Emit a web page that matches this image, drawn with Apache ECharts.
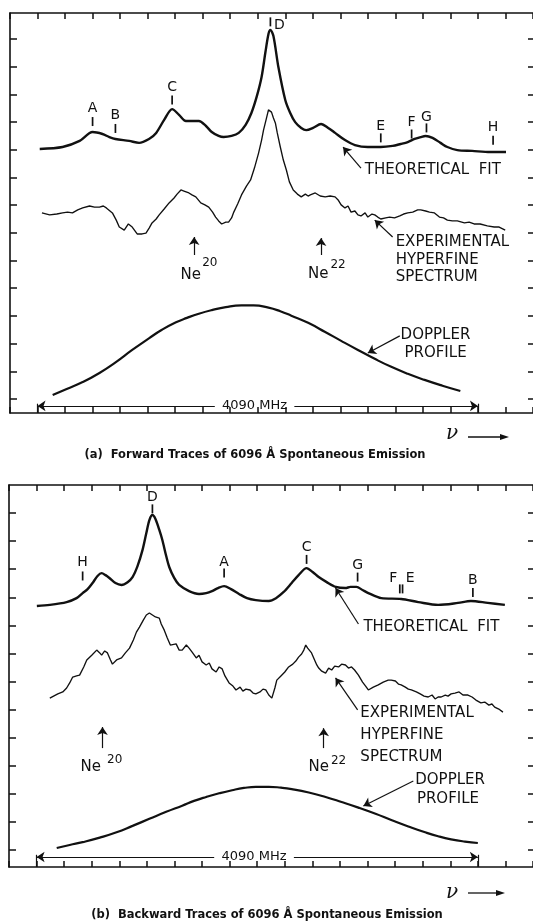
<!DOCTYPE html>
<html>
<head>
<meta charset="utf-8">
<script src="https://cdn.jsdelivr.net/npm/echarts@6/dist/echarts.min.js"></script>
<style>
html, body { margin: 0; padding: 0; background: #fff; }
#chart { width: 533px; height: 921px; }
</style>
</head>
<body>
<div id="chart"></div>
<script>
// x = frequency in tick divisions (4090 MHz = 16 divisions), y = intensity in divisions

// (a) forward traces
var fitA = [[0.08,9.03],[0.91,9.10],[1.53,9.32],[2.00,9.64],[2.36,9.57],[2.61,9.46],[2.83,9.39],[3.33,9.32],[3.69,9.25],[4.05,9.39],[4.31,9.61],[4.60,10.08],[4.89,10.47],[5.14,10.26],[5.39,10.04],[5.61,10.04],[5.86,10.04],[6.12,9.86],[6.33,9.64],[6.58,9.50],[6.76,9.46],[7.05,9.50],[7.31,9.61],[7.56,9.90],[7.77,10.33],[7.96,10.91],[8.14,11.63],[8.28,12.53],[8.39,13.18],[8.46,13.33],[8.57,13.11],[8.75,11.99],[9.00,10.80],[9.18,10.33],[9.36,10.00],[9.58,9.79],[9.76,9.71],[10.01,9.79],[10.30,9.93],[10.56,9.79],[10.81,9.61],[11.17,9.35],[11.53,9.17],[12.00,9.10],[12.47,9.10],[12.90,9.14],[13.19,9.21],[13.45,9.28],[13.70,9.39],[13.92,9.46],[14.10,9.50],[14.35,9.43],[14.64,9.25],[14.89,9.10],[15.25,8.99],[15.79,8.96],[16.44,8.92],[17.02,8.92]];
var expA = [[0.16,6.72],[0.44,6.65],[0.70,6.68],[0.91,6.72],[1.09,6.75],[1.27,6.72],[1.46,6.83],[1.64,6.90],[1.89,6.97],[2.07,6.93],[2.25,6.93],[2.39,6.97],[2.50,6.90],[2.72,6.72],[2.86,6.46],[2.97,6.21],[3.15,6.10],[3.30,6.32],[3.44,6.21],[3.62,5.96],[3.80,5.96],[3.94,5.99],[4.06,6.18],[4.16,6.36],[4.31,6.50],[4.42,6.65],[4.60,6.86],[4.78,7.08],[4.96,7.26],[5.07,7.40],[5.21,7.55],[5.32,7.51],[5.39,7.48],[5.50,7.44],[5.61,7.37],[5.75,7.30],[5.93,7.08],[6.08,7.01],[6.22,6.93],[6.36,6.75],[6.47,6.57],[6.58,6.43],[6.69,6.32],[6.84,6.39],[6.94,6.39],[7.05,6.54],[7.13,6.75],[7.27,7.04],[7.41,7.37],[7.59,7.69],[7.74,7.91],[7.88,8.34],[8.03,8.88],[8.14,9.35],[8.21,9.71],[8.32,10.15],[8.39,10.44],[8.43,10.51],[8.50,10.36],[8.57,10.15],[8.64,9.97],[8.71,9.61],[8.82,9.10],[8.93,8.63],[9.04,8.27],[9.15,7.84],[9.29,7.55],[9.44,7.40],[9.58,7.30],[9.73,7.40],[9.83,7.33],[9.91,7.37],[10.09,7.44],[10.27,7.33],[10.45,7.30],[10.63,7.33],[10.81,7.30],[10.92,7.19],[11.03,7.01],[11.17,6.90],[11.28,6.97],[11.39,6.75],[11.53,6.79],[11.64,6.65],[11.75,6.61],[11.90,6.72],[12.00,6.57],[12.15,6.68],[12.25,6.65],[12.36,6.57],[12.47,6.50],[12.65,6.54],[12.79,6.57],[12.97,6.54],[13.16,6.61],[13.30,6.68],[13.45,6.72],[13.63,6.75],[13.81,6.83],[13.92,6.83],[14.10,6.79],[14.24,6.75],[14.42,6.72],[14.60,6.57],[14.75,6.54],[14.89,6.46],[15.07,6.43],[15.25,6.43],[15.51,6.36],[15.68,6.39],[15.86,6.32],[16.08,6.32],[16.34,6.25],[16.59,6.21],[16.77,6.21],[16.99,6.10]];
var dopA = [[0.55,0.14],[1.06,0.36],[1.64,0.61],[2.25,0.94],[2.86,1.34],[3.44,1.77],[4.06,2.20],[4.52,2.50],[5.03,2.77],[5.43,2.93],[5.86,3.08],[6.33,3.21],[6.84,3.32],[7.41,3.38],[7.85,3.38],[8.39,3.30],[8.82,3.17],[9.22,3.01],[9.83,2.75],[10.45,2.42],[11.03,2.10],[11.64,1.77],[12.25,1.45],[12.83,1.17],[13.45,0.91],[14.06,0.69],[14.71,0.48],[15.36,0.29]];
var peakNamesA = ['A','B','C','D','E','F','G','H'];
var peakLabelA = [[2.00,10.51],[2.83,10.26],[4.89,11.27],[8.79,13.51],[12.47,9.86],[13.59,10.00],[14.13,10.18],[16.55,9.82]];
var peakTickA = [[2.00,10.02],[2.83,9.77],[4.89,10.80],[8.46,13.62],[12.47,9.43],[13.59,9.57],[14.13,9.79],[16.55,9.34]];
var notesA = [['THEORETICAL  FIT',11.89,8.27],['EXPERIMENTAL',13.01,5.67],['HYPERFINE',13.01,5.02],['SPECTRUM',13.01,4.41],['DOPPLER',13.19,2.31],['PROFILE',13.33,1.66]];
var pointersA = [[[11.75,8.34],[11.10,9.10]],[[12.90,5.85],[12.25,6.46]],[[13.16,2.28],[12.00,1.66]],[[5.69,5.20],[5.69,5.85]],[[10.30,5.20],[10.30,5.81]]];
var isoA = [['Ne',5.57,4.48],['Ne',10.20,4.51]];
var isoSupA = [['20',6.26,4.91],['22',10.92,4.84]];

// (b) backward traces
var fitB = [[0.01,8.69],[0.48,8.73],[1.09,8.83],[1.45,8.97],[1.67,9.15],[1.85,9.29],[2.03,9.51],[2.21,9.76],[2.36,9.86],[2.50,9.79],[2.64,9.69],[2.86,9.51],[3.08,9.44],[3.30,9.54],[3.48,9.72],[3.66,10.11],[3.84,10.68],[3.98,11.29],[4.09,11.75],[4.20,11.93],[4.31,11.79],[4.45,11.40],[4.56,11.04],[4.70,10.47],[4.81,10.08],[4.99,9.69],[5.17,9.44],[5.53,9.22],[5.89,9.12],[6.15,9.15],[6.36,9.22],[6.58,9.33],[6.80,9.40],[7.05,9.29],[7.34,9.12],[7.63,8.97],[7.95,8.90],[8.42,8.87],[8.68,8.97],[8.96,9.19],[9.25,9.51],[9.50,9.79],[9.79,10.04],[10.01,9.90],[10.23,9.72],[10.52,9.54],[10.85,9.37],[11.20,9.33],[11.38,9.37],[11.60,9.37],[11.82,9.26],[12.03,9.15],[12.50,8.97],[13.22,8.94],[13.84,8.83],[14.56,8.73],[15.28,8.80],[15.75,8.87],[16.36,8.80],[16.98,8.73]];
var expB = [[0.48,5.41],[0.77,5.56],[0.95,5.63],[1.09,5.77],[1.20,5.95],[1.31,6.16],[1.45,6.20],[1.56,6.23],[1.71,6.52],[1.82,6.77],[2.00,6.94],[2.18,7.12],[2.29,7.02],[2.36,6.94],[2.47,7.09],[2.57,7.02],[2.68,6.77],[2.75,6.62],[2.90,6.77],[3.08,6.84],[3.22,7.02],[3.37,7.19],[3.51,7.48],[3.62,7.76],[3.73,7.94],[3.87,8.19],[3.98,8.37],[4.09,8.44],[4.20,8.37],[4.31,8.30],[4.45,8.26],[4.52,8.05],[4.63,7.83],[4.74,7.55],[4.85,7.30],[4.92,7.23],[5.06,7.34],[5.17,7.12],[5.28,7.12],[5.43,7.30],[5.53,7.19],[5.64,7.05],[5.79,6.84],[5.89,6.94],[6.00,6.70],[6.15,6.59],[6.26,6.66],[6.36,6.45],[6.51,6.34],[6.62,6.52],[6.73,6.45],[6.83,6.20],[6.98,5.95],[7.12,5.84],[7.23,5.70],[7.38,5.80],[7.48,5.66],[7.59,5.73],[7.74,5.70],[7.85,5.59],[7.95,5.56],[8.10,5.63],[8.21,5.73],[8.31,5.70],[8.42,5.52],[8.53,5.41],[8.64,5.77],[8.71,6.05],[8.86,6.20],[9.00,6.34],[9.14,6.52],[9.29,6.62],[9.40,6.73],[9.50,6.87],[9.61,6.98],[9.69,7.12],[9.76,7.30],[9.83,7.19],[9.90,7.12],[9.97,7.02],[10.08,6.77],[10.16,6.59],[10.23,6.48],[10.34,6.37],[10.48,6.30],[10.59,6.48],[10.70,6.41],[10.81,6.55],[10.95,6.52],[11.06,6.62],[11.20,6.59],[11.31,6.48],[11.42,6.52],[11.53,6.41],[11.67,6.23],[11.82,5.98],[11.93,5.84],[12.03,5.70],[12.21,5.80],[12.39,5.88],[12.57,5.98],[12.75,6.05],[12.86,6.05],[13.01,6.02],[13.12,5.91],[13.22,5.88],[13.37,5.80],[13.48,5.73],[13.59,5.70],[13.77,5.63],[13.91,5.56],[14.05,5.48],[14.20,5.45],[14.34,5.52],[14.45,5.38],[14.56,5.45],[14.67,5.45],[14.82,5.52],[14.92,5.48],[15.03,5.56],[15.17,5.59],[15.32,5.63],[15.46,5.52],[15.64,5.52],[15.79,5.45],[15.93,5.34],[16.11,5.24],[16.25,5.27],[16.40,5.16],[16.51,5.20],[16.61,5.09],[16.76,5.02],[16.91,4.91]];
var dopB = [[0.73,0.07],[1.20,0.18],[1.67,0.28],[2.29,0.44],[2.90,0.63],[3.48,0.86],[4.09,1.11],[4.70,1.36],[5.28,1.58],[5.71,1.75],[6.15,1.89],[6.62,2.02],[7.09,2.13],[7.52,2.21],[7.95,2.25],[8.42,2.25],[8.86,2.22],[9.25,2.17],[9.87,2.05],[10.48,1.89],[11.06,1.71],[11.67,1.51],[12.29,1.29],[12.86,1.07],[13.48,0.84],[14.09,0.63],[14.56,0.49],[15.03,0.38],[15.53,0.30],[16.00,0.25]];
var peakNamesB = ['H','D','A','C','G','F','E','B'];
var peakLabelB = [[1.67,10.26],[4.20,12.57],[6.80,10.26],[9.79,10.79],[11.64,10.15],[12.93,9.69],[13.55,9.69],[15.82,9.62]];
var peakTickB = [[1.67,9.76],[4.20,12.15],[6.80,9.87],[9.79,10.35],[11.64,9.72],[13.17,9.30],[13.27,9.30],[15.82,9.17]];
var notesB = [['THEORETICAL  FIT',11.85,7.94],['EXPERIMENTAL',11.74,4.88],['HYPERFINE',11.74,4.10],['SPECTRUM',11.74,3.31],['DOPPLER',13.73,2.49],['PROFILE',13.79,1.82]];
var pointersB = [[[11.67,8.05],[10.84,9.33]],[[11.64,4.99],[10.84,6.13]],[[13.66,2.46],[11.85,1.57]],[[2.39,3.63],[2.39,4.38]],[[10.41,3.63],[10.41,4.34]]];
var isoB = [['Ne',1.96,2.96],['Ne',10.23,2.96]];
var isoSupB = [['20',2.83,3.21],['22',10.95,3.17]];

// the 4090 MHz span: from division 0 to division 16
var spanLabel = '4090 MHz';
var spanEnds = [0, 16];
var spanGap = [6.44, 9.33];
var spanLevel = -0.25;

var INK = '#111';
var FONT = 'DejaVu Sans';

function textSeries(xi, yi, items, size, align) {
    return {
        type: 'scatter', xAxisIndex: xi, yAxisIndex: yi, silent: true,
        symbolSize: 1, itemStyle: {color: 'rgba(0,0,0,0)', opacity: 1},
        data: items.map(function (t) { return {name: t[0], value: [t[1], t[2]]}; }),
        label: {show: true, position: 'inside', formatter: '{b}', align: align,
            verticalAlign: 'middle', fontSize: size, fontFamily: FONT, color: INK}
    };
}

function panel(xi, yi, fit, exp, dop, names, labels, ticks, notes, pointers, iso, isoSup, bottom) {
    var arrows = pointers.map(function (p) { return [{coord: p[0]}, {coord: p[1]}]; });
    arrows.push([{coord: [spanGap[0], spanLevel]}, {coord: [spanEnds[0], spanLevel]}]);
    arrows.push([{coord: [spanGap[1], spanLevel]}, {coord: [spanEnds[1], spanLevel]}]);
    var bars = spanEnds.map(function (x) {
        return [{coord: [x, spanLevel + 0.08], symbol: 'none'}, {coord: [x, bottom], symbol: 'none'}];
    });
    return [
        {type: 'line', xAxisIndex: xi, yAxisIndex: yi, data: fit, smooth: 0.3, showSymbol: false,
            lineStyle: {color: INK, width: 2.4}},
        {type: 'line', xAxisIndex: xi, yAxisIndex: yi, data: exp, smooth: false, showSymbol: false,
            lineStyle: {color: INK, width: 1.35}},
        {type: 'line', xAxisIndex: xi, yAxisIndex: yi, data: dop, smooth: 0.5, showSymbol: false,
            lineStyle: {color: INK, width: 2.2}},
        {type: 'scatter', xAxisIndex: xi, yAxisIndex: yi, silent: true, symbol: 'rect',
            symbolSize: [1.7, 9], itemStyle: {color: INK, opacity: 1}, data: ticks},
        textSeries(xi, yi, names.map(function (n, i) { return [n, labels[i][0], labels[i][1]]; }), 14, 'center'),
        textSeries(xi, yi, notes, 15, 'left'),
        textSeries(xi, yi, iso, 15, 'center'),
        textSeries(xi, yi, isoSup, 12, 'center'),
        textSeries(xi, yi, [[spanLabel, (spanGap[0] + spanGap[1]) / 2, spanLevel]], 13, 'center'),
        {type: 'line', xAxisIndex: xi, yAxisIndex: yi, data: [], silent: true,
            markLine: {silent: true, symbol: ['none', 'arrow'], symbolSize: 8,
                label: {show: false}, lineStyle: {color: INK, width: 1.2, type: 'solid'},
                data: arrows.concat(bars)}}
    ];
}

function frameX(grid, pos) {
    return {type: 'value', gridIndex: grid, position: pos, min: -1, max: 18, interval: 1,
        axisLine: {show: true, onZero: false, lineStyle: {color: INK, width: 1.6}},
        axisTick: {show: true, inside: true, length: 6, lineStyle: {color: INK, width: 1.5}},
        axisLabel: {show: false}, splitLine: {show: false}};
}
function hiddenX(grid) {
    return {type: 'value', gridIndex: grid, min: 0, max: 1, show: false};
}
function frameY(grid, lo, hi) {
    return {type: 'value', gridIndex: grid, min: lo, max: hi,
        axisLine: {show: true, onZero: false, lineStyle: {color: INK, width: 1.6}},
        axisTick: {show: false}, axisLabel: {show: false}, splitLine: {show: false}};
}
function tickY(grid, pos, hi, len) {
    return {type: 'value', gridIndex: grid, position: pos, min: 0, max: hi, interval: 1,
        axisLine: {show: false, onZero: false},
        axisTick: {show: true, inside: true, length: len, lineStyle: {color: INK, width: 1.5}},
        axisLabel: {show: false}, splitLine: {show: false}};
}

var chart = echarts.init(document.getElementById('chart'));
var option = {
    animation: false,
    backgroundColor: '#fff',
    grid: [
        {left: 10, top: 13, width: 526, height: 400},
        {left: 10, right: 0, top: 39, height: 360},
        {left: 9, top: 485, width: 526.3, height: 382},
        {left: 9, right: 0, top: 513, height: 337}
    ],
    xAxis: [frameX(0, 'bottom'), frameX(0, 'top'), hiddenX(1), frameX(2, 'bottom'), frameX(2, 'top'), hiddenX(3)],
    yAxis: [frameY(0, -0.506, 13.94), tickY(1, 'left', 13, 7), tickY(1, 'right', 13, 5),
        frameY(2, -0.605, 13.0), tickY(3, 'left', 12, 7), tickY(3, 'right', 12, 5)],
    series: panel(0, 0, fitA, expA, dopA, peakNamesA, peakLabelA, peakTickA, notesA, pointersA, isoA, isoSupA, -0.506)
        .concat(panel(3, 3, fitB, expB, dopB, peakNamesB, peakLabelB, peakTickB, notesB, pointersB, isoB, isoSupB, -0.605)),
    graphic: [
        {type: 'text', x: 452, y: 434, style: {text: 'ν', fontSize: 20, fontStyle: 'italic', fontFamily: 'DejaVu Serif', align: 'center', verticalAlign: 'middle', fill: INK}},
        {type: 'line', shape: {x1: 468, y1: 437, x2: 502, y2: 437}, style: {stroke: INK, lineWidth: 1.3}},
        {type: 'polygon', shape: {points: [[500, 434], [509, 437], [500, 440]]}, style: {fill: INK}},
        {type: 'text', x: 255, y: 455, style: {text: '(a)  Forward Traces of 6096 Å Spontaneous Emission', fontSize: 11.5, fontWeight: 'bold', fontFamily: FONT, align: 'center', verticalAlign: 'middle', fill: INK}},
        {type: 'text', x: 452, y: 893, style: {text: 'ν', fontSize: 20, fontStyle: 'italic', fontFamily: 'DejaVu Serif', align: 'center', verticalAlign: 'middle', fill: INK}},
        {type: 'line', shape: {x1: 468, y1: 893, x2: 498, y2: 893}, style: {stroke: INK, lineWidth: 1.3}},
        {type: 'polygon', shape: {points: [[496, 890], [505, 893], [496, 896]]}, style: {fill: INK}},
        {type: 'text', x: 267, y: 915, style: {text: '(b)  Backward Traces of 6096 Å Spontaneous Emission', fontSize: 11.5, fontWeight: 'bold', fontFamily: FONT, align: 'center', verticalAlign: 'middle', fill: INK}}
    ]
};
chart.setOption(option);
</script>
</body>
</html>
